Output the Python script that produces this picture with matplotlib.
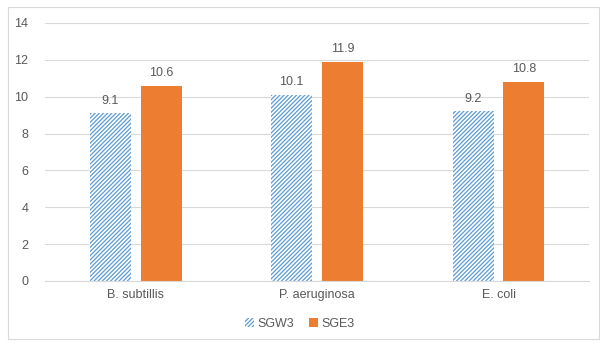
import matplotlib
matplotlib.use("Agg")
import matplotlib.pyplot as plt
from matplotlib.patches import Rectangle, Patch
import numpy as np

categories = ["B. subtillis", "P. aeruginosa", "E. coli"]
sgw3 = [9.1, 10.1, 9.2]
sge3 = [10.6, 11.9, 10.8]
yticks = [0, 2, 4, 6, 8, 10, 12, 14]

blue = "#5B9BD5"
orange = "#ED7D31"
text_col = "#595959"
grid_col = "#D9D9D9"

plt.rcParams["hatch.linewidth"] = 0.9
plt.rcParams["font.family"] = ["Liberation Sans", "DejaVu Sans"]

fig = plt.figure(figsize=(6.0, 3.53), dpi=100)
fig.patches.append(Rectangle((0.013, 0.04), 0.985, 0.94, transform=fig.transFigure,
                             fill=False, edgecolor="#D9D9D9", linewidth=0.8))
ax = fig.add_axes([0.075, 0.204, 0.907, 0.731])

x = np.arange(len(categories))
w = 0.225
off = 0.14
hatch = "////////"
b1 = ax.bar(x - off, sgw3, w, color="white", edgecolor=blue, hatch=hatch, linewidth=0)
b2 = ax.bar(x + off, sge3, w, color=orange, linewidth=0)

for rect, v in zip(b1, sgw3):
    ax.text(rect.get_x() + rect.get_width() / 2, v + 0.35, f"{v}", ha="center", va="bottom",
            fontsize=9, color=text_col)
for rect, v in zip(b2, sge3):
    ax.text(rect.get_x() + rect.get_width() / 2, v + 0.35, f"{v}", ha="center", va="bottom",
            fontsize=9, color=text_col)

ax.set_xlim(-0.5, len(categories) - 0.5)
ax.set_ylim(0, 14)
ax.set_yticks(yticks)
ax.set_xticks(x)
ax.set_xticklabels(categories)
ax.tick_params(axis="both", length=0, colors=text_col, labelsize=9)
ax.tick_params(axis="y", pad=12)
ax.tick_params(axis="x", pad=6)
ax.grid(axis="y", color=grid_col, linewidth=0.8)
ax.set_axisbelow(True)
for s in ["top", "right", "left"]:
    ax.spines[s].set_visible(False)
ax.spines["bottom"].set_color(grid_col)

handles = [Patch(facecolor="white", edgecolor=blue, hatch=hatch, linewidth=0, label="SGW3"),
           Patch(facecolor=orange, linewidth=0, label="SGE3")]
fig.legend(handles=handles, loc="center", bbox_to_anchor=(0.5, 0.082), ncol=2, frameon=False,
           fontsize=9, handlelength=0.7, handleheight=0.7, columnspacing=1.2, handletextpad=0.3,
           labelcolor=text_col)

fig.savefig("out.png", dpi=100)
